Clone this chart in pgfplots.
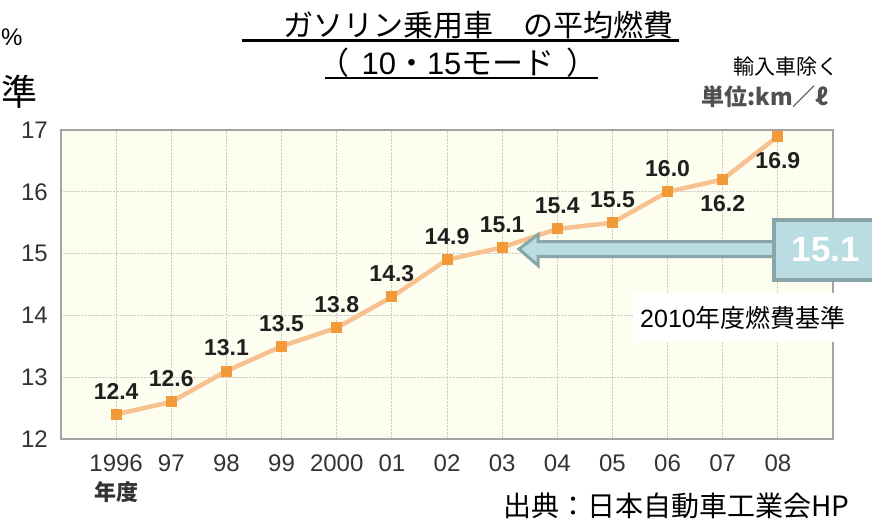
\documentclass[border=0pt]{standalone}
\usepackage{fontspec}
\setmainfont{Liberation Sans}
\newfontfamily\jp{Noto Sans CJK JP}
\usepackage{pgfplots}
\pgfplotsset{compat=1.18}
\definecolor{bgc}{HTML}{FDFDF0}
\definecolor{gridc}{HTML}{CFCFC6}
\definecolor{axc}{HTML}{A3A3A0}
\definecolor{tickc}{HTML}{333333}
\definecolor{linec}{HTML}{F8C290}
\definecolor{markc}{HTML}{F29A38}
\definecolor{arrowf}{HTML}{B9DDE3}
\definecolor{arrowd}{HTML}{8AA5A7}
\definecolor{unitc}{HTML}{505050}
\begin{document}
\begin{tikzpicture}
\useasboundingbox (0pt,0pt) rectangle (872pt,-523pt);
\begin{axis}[
  at={(61pt,-439pt)}, anchor=south west,
  scale only axis, width=772pt, height=309pt,
  xmin=-1, xmax=13, ymin=12, ymax=17,
  xtick={0,...,12},
  xticklabels={1996,97,98,99,2000,01,02,03,04,05,06,07,08},
  ytick={12,...,17},
  major tick length=0pt,
  grid=major,
  grid style={densely dotted, draw=gridc, line width=1pt},
  axis background/.style={fill=bgc},
  axis line style={draw=axc, line width=2pt},
  /pgf/number format/assume math mode=true,
  tick label style={font=\fontsize{24}{28}\selectfont, text=tickc, inner sep=0pt},
  xticklabel style={anchor=center, yshift=-24pt},
  yticklabel style={anchor=east, xshift=-13pt},
  clip=false,
]
\addplot[color=linec, line width=4.5pt, mark=square*, mark size=5pt,
  mark options={fill=markc, draw=markc, line width=0pt}]
  coordinates {(0,12.4)(1,12.6)(2,13.1)(3,13.5)(4,13.8)(5,14.3)(6,14.9)(7,15.1)(8,15.4)(9,15.5)(10,16.0)(11,16.2)(12,16.9)};
\addplot[draw=none, mark=none,
  nodes near coords={\pgfmathprintnumber[fixed,fixed zerofill,precision=1]{\pgfplotspointmeta}},
  every node near coord/.append style={anchor=center, yshift=23pt, inner sep=0pt,
    font=\bfseries\fontsize{23}{27}\selectfont, text=black!88}]
  coordinates {(0,12.4)(1,12.6)(2,13.1)(3,13.5)(4,13.8)(5,14.3)(6,14.9)(7,15.1)(8,15.4)(9,15.5)(10,16.0)};
\addplot[draw=none, mark=none,
  nodes near coords={\pgfmathprintnumber[fixed,fixed zerofill,precision=1]{\pgfplotspointmeta}},
  every node near coord/.append style={anchor=center, yshift=-24pt, inner sep=0pt,
    font=\bfseries\fontsize{23}{27}\selectfont, text=black!88}]
  coordinates {(11,16.2)(12,16.9)};
\end{axis}
\begin{scope}[x=1pt,y=-1pt]
  % year unit
  \node[font=\jp\bfseries\fontsize{22}{24}\selectfont, text=tickc, inner sep=0pt] at (116,492) {年度};
  % white label box
  \fill[white] (633,293) rectangle (885,342);
  \node[anchor=west, inner sep=0pt, font=\fontsize{25}{28}\selectfont] at (640,318) {2010{\jp 年度燃費基準}};
  % arrow
  \filldraw[fill=arrowf, draw=arrowd, line width=3pt, line join=miter]
    (519,249) -- (538,234.5) -- (538,241.5) -- (775,241.5) -- (775,256.5) -- (538,256.5) -- (538,265.5) -- cycle;
  \filldraw[fill=arrowf, draw=arrowd, line width=4pt] (774,220) rectangle (885,280);
  \node[text=white, font=\bfseries\fontsize{35}{38}\selectfont, inner sep=0pt] at (826,250) {15.1};
  % title
  \node[inner sep=0pt, font=\jp\fontsize{30}{32}\selectfont] at (478.5,25) {ガソリン乗用車　の平均燃費};
  \draw[line width=2.3pt] (242,40.5) -- (679,40.5);
  \node[inner sep=0pt, font=\jp\fontsize{31}{32}\selectfont] at (458,63) {（\hspace{12pt}{\fontspec{Liberation Sans}10}・{\fontspec{Liberation Sans}15}モード\hspace{12pt}）};
  \draw[line width=2.3pt] (325,78) -- (598,78);
  % right notes
  \node[inner sep=0pt, font=\jp\fontsize{21}{24}\selectfont] at (786,67) {輸入車除く};
  \node[inner sep=0pt, font=\jp\bfseries\fontsize{23}{26}\selectfont, text=unitc] at (765,97) {単位:km／ℓ};
  % source
  \node[anchor=west, inner sep=0pt, font=\jp\fontsize{28}{30}\selectfont] at (503,506) {出典：日本自動車工業会HP};
  % text at left edge
  \node[anchor=west, inner sep=0pt, font=\fontsize{24}{26}\selectfont] at (1,37) {\%};
  \node[anchor=west, inner sep=0pt, font=\jp\fontsize{36}{40}\selectfont] at (1,92) {準};
\end{scope}
\end{tikzpicture}
\end{document}
